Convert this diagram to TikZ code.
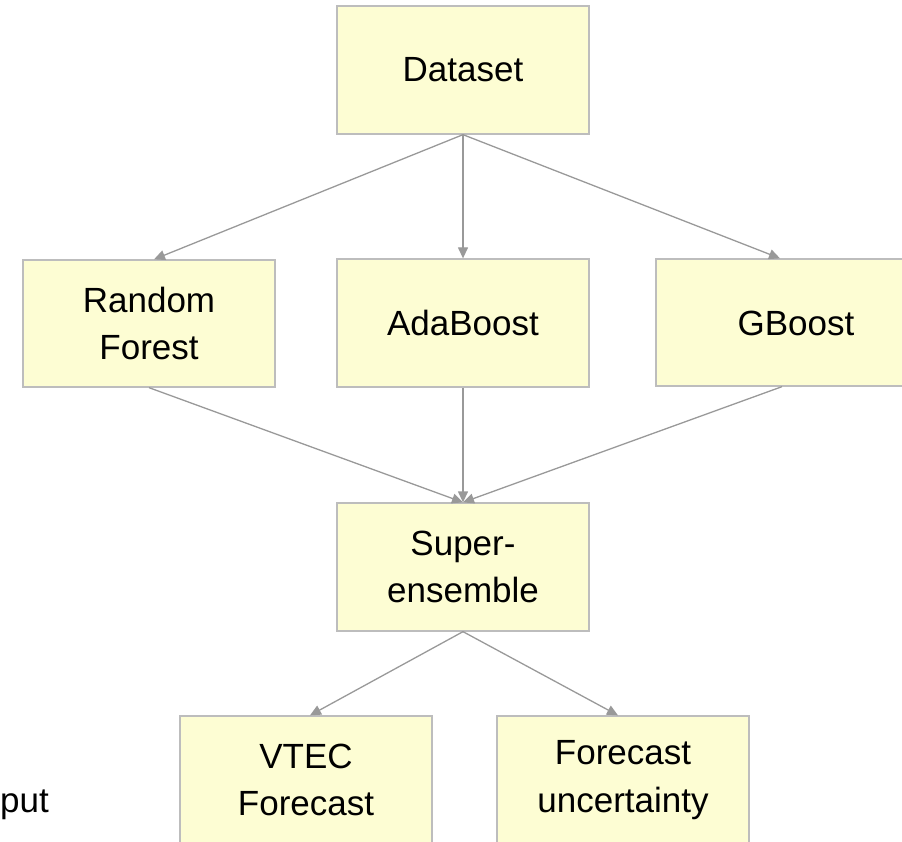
\documentclass[tikz,border=0pt]{standalone}
\usepackage{fontspec}
\setmainfont{Liberation Sans}
\usetikzlibrary{arrows.meta}
\definecolor{boxfill}{HTML}{FDFDD3}
\definecolor{boxline}{HTML}{BDBDBD}
\definecolor{arrowgray}{HTML}{999999}
\begin{document}
\begin{tikzpicture}[x=1pt,y=-1pt,
  labelfont/.style={font=\fontsize{35}{47.5}\selectfont},
  stage/.style={draw=boxline, fill=boxfill, line width=1.3pt,
    minimum width=252pt, minimum height=128pt, inner sep=0pt,
    align=center, labelfont},
  flow/.style={draw=arrowgray, line width=1.3pt,
    -{Triangle[length=11pt,width=10pt]}}]
\useasboundingbox (0,0) rectangle (902,842);

% boxes
\node[stage] (data) at (463,70) {Dataset};
\node[stage, minimum height=127pt] (rf) at (149,323.5) {Random\\Forest};
\node[stage] (ada) at (463,323) {AdaBoost};
\node[stage, minimum height=127pt] (gb) at (782,322.5) {};
\node[labelfont, inner sep=0pt] (gbtext) at (796,323) {GBoost};
\node[stage] (super) at (463,567) {Super-\\ensemble};
\node[stage] (vtec) at (306,780) {VTEC\\Forecast};
\node[stage] (fu) at (623,780) {Forecast\\uncertainty};

% partial caption at the left edge
\node[labelfont, inner sep=0pt, anchor=base west] (cap) at (0,812) {put};

% connectors
\draw[flow] (data.south) -- ([xshift=5pt]rf.north);
\draw[flow] (data.south) -- (ada.north);
\draw[flow] (data.south) -- ([xshift=-2pt]gb.north);
\draw[flow] (rf.south) -- (super.north);
\draw[flow] (ada.south) -- (super.north);
\draw[flow] (gb.south) -- (super.north);
\draw[flow] (super.south) -- ([xshift=4pt]vtec.north);
\draw[flow] (super.south) -- ([xshift=-5pt]fu.north);
\end{tikzpicture}
\end{document}
